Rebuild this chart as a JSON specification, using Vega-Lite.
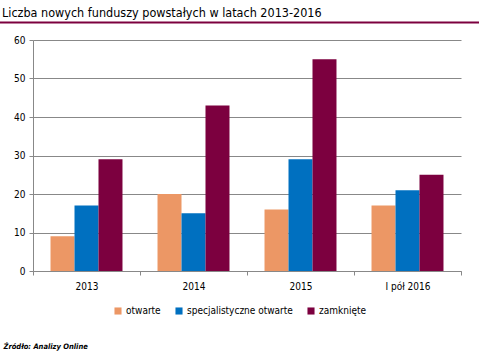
{
  "$schema": "https://vega.github.io/schema/vega-lite/v6.json",
  "width": 428,
  "height": 231,
  "autosize": {"type": "none"},
  "padding": {"left": 33, "top": 40, "right": 18, "bottom": 83},
  "background": "white",
  "config": {"font": "DejaVu Sans Condensed, DejaVu Sans, sans-serif", "view": {"stroke": null}},
  "title": {"text": "Liczba nowych funduszy powstałych w latach 2013-2016", "anchor": "start", "dx": 3, "fontSize": 12.5, "fontWeight": "normal", "color": "black", "offset": 2},
  "layer": [
    {
      "data": {"values": [
        {"okres": "2013", "typ": "otwarte", "liczba": 9},
        {"okres": "2013", "typ": "specjalistyczne otwarte", "liczba": 17},
        {"okres": "2013", "typ": "zamknięte", "liczba": 29},
        {"okres": "2014", "typ": "otwarte", "liczba": 20},
        {"okres": "2014", "typ": "specjalistyczne otwarte", "liczba": 15},
        {"okres": "2014", "typ": "zamknięte", "liczba": 43},
        {"okres": "2015", "typ": "otwarte", "liczba": 16},
        {"okres": "2015", "typ": "specjalistyczne otwarte", "liczba": 29},
        {"okres": "2015", "typ": "zamknięte", "liczba": 55},
        {"okres": "I pół 2016", "typ": "otwarte", "liczba": 17},
        {"okres": "I pół 2016", "typ": "specjalistyczne otwarte", "liczba": 21},
        {"okres": "I pół 2016", "typ": "zamknięte", "liczba": 25}
      ]},
      "mark": {"type": "bar"},
      "encoding": {
        "x": {
          "field": "okres", "type": "nominal",
          "sort": ["2013", "2014", "2015", "I pół 2016"],
          "scale": {"paddingInner": 0, "paddingOuter": 0},
          "axis": {
            "title": "Źródło: Analizy Online",
            "labelAngle": 0, "tickBand": "extent",
            "domainColor": "#888888", "tickColor": "#888888", "tickSize": 4,
            "labelPadding": 6, "labelFontSize": 10, "labelColor": "black",
            "titleAnchor": "start", "titleX": -30, "titleY": 75,
            "titleAlign": "left", "titleBaseline": "middle",
            "titleFontSize": 7.5, "titleFontStyle": "italic", "titleFontWeight": "bold", "titleColor": "black"
          }
        },
        "xOffset": {
          "field": "typ", "type": "nominal",
          "sort": ["otwarte", "specjalistyczne otwarte", "zamknięte"],
          "scale": {"paddingInner": 0, "paddingOuter": 0.73}
        },
        "y": {
          "field": "liczba", "type": "quantitative",
          "scale": {"domain": [0, 60], "nice": false},
          "axis": {
            "title": null, "values": [0, 10, 20, 30, 40, 50, 60], "labelOverlap": false,
            "gridColor": "#888888", "domainColor": "#888888", "tickColor": "#888888",
            "tickSize": 4, "labelPadding": 4, "labelFontSize": 10, "labelColor": "black"
          }
        },
        "color": {
          "field": "typ", "type": "nominal",
          "scale": {"domain": ["otwarte", "specjalistyczne otwarte", "zamknięte"], "range": ["#EC9765", "#0070C0", "#7C003F"]},
          "legend": {
            "title": null, "orient": "none", "direction": "horizontal",
            "legendX": 80, "legendY": 266,
            "symbolType": "square", "symbolSize": 50, "symbolStrokeWidth": 0,
            "labelFontSize": 10, "labelColor": "black", "columnPadding": 13, "labelOffset": 3
          }
        }
      }
    },
    {
      "data": {"values": [{"a": -0.0771, "b": 1.0421, "y": 64.55}]},
      "mark": {"type": "rule", "color": "#7C003F", "strokeWidth": 2},
      "encoding": {
        "x": {"field": "a", "type": "quantitative", "scale": {"domain": [0, 1], "nice": false, "zero": false}, "axis": null},
        "x2": {"field": "b"},
        "y": {
          "field": "y", "type": "quantitative",
          "axis": {
            "title": null, "values": [0, 10, 20, 30, 40, 50, 60], "labelOverlap": false,
            "gridColor": "#888888", "domainColor": "#888888", "tickColor": "#888888",
            "tickSize": 4, "labelPadding": 4, "labelFontSize": 10, "labelColor": "black"
          }
        }
      }
    }
  ],
  "resolve": {"scale": {"x": "independent"}, "axis": {"x": "independent"}}
}
